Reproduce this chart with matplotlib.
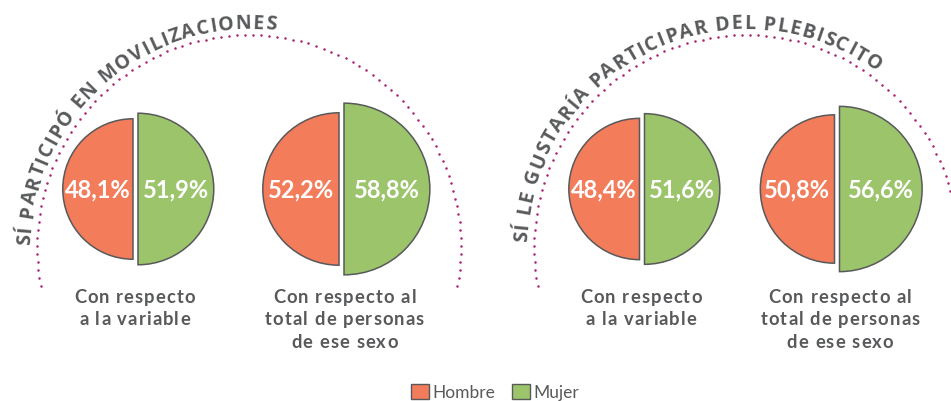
import numpy as np
import matplotlib
matplotlib.use("Agg")
import matplotlib.pyplot as plt
from matplotlib.patches import Wedge, Patch
from matplotlib.font_manager import FontProperties

# datos
titulos = ["SÍ PARTICIPÓ EN MOVILIZACIONES", "SÍ LE GUSTARÍA PARTICIPAR DEL PLEBISCITO"]
etiquetas = ["Con respecto\na la variable", "Con respecto al\ntotal de personas\nde ese sexo"]
hombre = [48.1, 52.2, 48.4, 50.8]
mujer = [51.9, 58.8, 51.6, 56.6]
series = ["Hombre", "Mujer"]

NARANJA = "#F37C5B"
VERDE = "#9CC46A"
GRIS = "#58595B"
MAGENTA = "#A8226E"

W, H = 951, 402
fig = plt.figure(figsize=(W / 100, H / 100), dpi=100)
ax = fig.add_axes([0, 0, 1, 1])
ax.set_xlim(0, W)
ax.set_ylim(H, 0)
ax.axis("off")

# posiciones (px)
centros_x = [135.5, 341.5, 642, 837]
cy = 190
escala = 1.46  # px por punto porcentual
hueco = 2.5
arco_cx = [249, 746]
arco_cy = 248
r_arco = 212
r_texto = 219
# angulo (grados) del primer y ultimo caracter de cada titulo
ang_ini = [177.8, 177.0]
ang_fin = [84.5, 55.5]

fig.canvas.draw()
rend = fig.canvas.get_renderer()


def ancho(ch, fp):
    w, _, _ = rend.get_text_width_height_descent(ch, fp, ismath=False)
    if ch == " " and w <= 0:
        w = fp.get_size_in_points() * 100 / 72 * 0.25
    return w


def texto_espaciado(xc, y, linea, fp, esp, color):
    ws = [ancho(c, fp) for c in linea]
    total = sum(ws) + esp * (len(linea) - 1)
    x = xc - total / 2
    for c, w in zip(linea, ws):
        ax.text(x + w / 2, y, c, fontproperties=fp, color=color, ha="center", va="baseline")
        x += w + esp


def fmt(v):
    return f"{v:.1f}".replace(".", ",") + "%"


fp_sub = FontProperties(family="Lato", weight="bold", size=13.2)

# semicirculos
for i in range(4):
    rh = hombre[i] * escala
    rm = mujer[i] * escala
    xh = centros_x[i] - hueco
    xm = centros_x[i] + hueco
    ax.add_patch(Wedge((xh, cy), rh, 90, 270, facecolor=NARANJA, edgecolor=GRIS, lw=1.1))
    ax.add_patch(Wedge((xm, cy), rm, -90, 90, facecolor=VERDE, edgecolor=GRIS, lw=1.1))
    ax.text(xh - rh / 2, cy, fmt(hombre[i]), color="white", fontsize=17, fontweight="bold",
            family="Lato", ha="center", va="center")
    ax.text(xm + rm / 2, cy, fmt(mujer[i]), color="white", fontsize=17, fontweight="bold",
            family="Lato", ha="center", va="center")
    for k, linea in enumerate(etiquetas[i % 2].split("\n")):
        texto_espaciado(centros_x[i] + (3 if i % 2 else -1), 303 + 22.5 * k, linea, fp_sub, 1.1, GRIS)

# arcos punteados
for cx in arco_cx:
    paso = 8.0 / r_arco
    ang = np.arange(np.radians(-10.6), np.radians(190.6), paso)
    ax.plot(cx + r_arco * np.cos(ang), arco_cy - r_arco * np.sin(ang), "o", ms=1.8,
            color=MAGENTA, mec="none")

# titulos curvos
fp = FontProperties(family="Open Sans", weight="bold", size=14)
for cx, titulo, a0, a1 in zip(arco_cx, titulos, ang_ini, ang_fin):
    ws = [ancho(c, fp) for c in titulo]
    largo = np.radians(a0 - a1) * r_texto
    esp = (largo - sum(ws) + ws[0] / 2 + ws[-1] / 2) / (len(titulo) - 1)
    theta = np.radians(a0) + (ws[0] / 2) / r_texto
    for ch, w in zip(titulo, ws):
        theta -= (w / 2) / r_texto
        x = cx + r_texto * np.cos(theta)
        y = arco_cy - r_texto * np.sin(theta)
        ax.text(x, y, ch, fontproperties=fp, color=GRIS, rotation=np.degrees(theta) - 90,
                rotation_mode="anchor", ha="center", va="baseline")
        theta -= (w / 2 + esp) / r_texto

# leyenda
handles = [Patch(facecolor=NARANJA, edgecolor=GRIS, lw=1, label=series[0]),
           Patch(facecolor=VERDE, edgecolor=GRIS, lw=1, label=series[1])]
ax.legend(handles=handles, loc="center", bbox_to_anchor=(495 / W, 1 - 393 / H), ncol=2,
          frameon=False, handlelength=1.0, handleheight=1.0, handletextpad=0.2,
          columnspacing=1.0, prop=FontProperties(family="Lato", size=12.5), labelcolor=GRIS)

fig.savefig("out.png", dpi=100)
